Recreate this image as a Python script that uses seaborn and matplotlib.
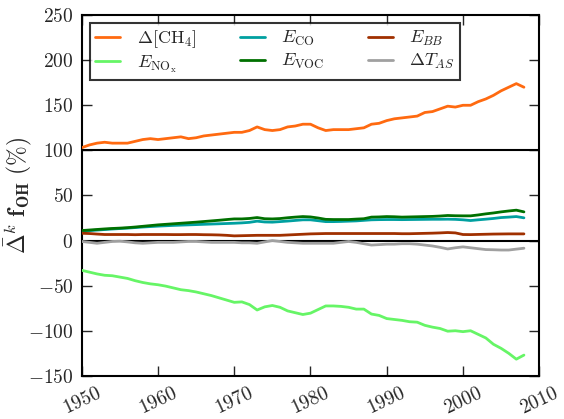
import numpy as np
import pandas as pd
import matplotlib
matplotlib.use("Agg")
import matplotlib.pyplot as plt
import seaborn as sns

years = list(range(1950, 2009))

ch4 = [103, 106, 108, 109, 108, 108, 108, 110, 112, 113,
       112, 113, 114, 115, 113, 114, 116, 117, 118, 119,
       120, 120, 122, 126, 123, 122, 123, 126, 127, 129,
       129, 125, 122, 123, 123, 123, 124, 125, 129, 130,
       133, 135, 136, 137, 138, 142, 143, 146, 149, 148,
       150, 150, 154, 157, 161, 166, 170, 174, 170]

nox = [-33, -35, -37, -38.5, -39, -40.5, -42, -44.5, -46.5, -48,
       -49, -50.5, -52.5, -54.5, -55.5, -57, -59, -61, -63.5, -66,
       -68.5, -68, -71, -77, -73.5, -72, -74, -78, -80, -82,
       -80.5, -76.5, -72.5, -72.5, -73, -74, -76, -76, -81.5, -83,
       -86.5, -87.5, -88.5, -90, -90.5, -94, -96, -97.5, -100.5, -100,
       -101, -100, -104, -108, -115, -119.5, -125, -131.5, -127]

co = [10.4, 11, 11.6, 12.2, 12.8, 13.3, 13.8, 14.4, 15, 15.5,
      16, 16.4, 16.8, 17.1, 17.4, 17.7, 18, 18.3, 18.6, 18.9,
      19.2, 19.6, 20.2, 21.5, 20.6, 20.4, 21, 21.6, 22.3, 23,
      23, 22, 21, 21, 21.2, 21.5, 21.8, 22.4, 23, 23.2,
      23.3, 23.3, 23.2, 23.3, 23.4, 23.5, 23.6, 23.6, 23.7, 23.5,
      23, 22.2, 23, 23.7, 24.5, 25.5, 26, 26.6, 25.2]

voc = [11.1, 11.7, 12.3, 12.9, 13.4, 13.8, 14.3, 15, 15.8, 16.6,
       17.4, 18, 18.6, 19.2, 19.8, 20.4, 21.1, 21.8, 22.5, 23.3,
       24, 24, 24.5, 25.5, 24.2, 24, 24.4, 25.3, 26, 26.6,
       26.2, 25, 23.5, 23.3, 23.3, 23.3, 23.8, 24.2, 26, 26.2,
       26.6, 26.4, 26, 26.2, 26.4, 26.6, 26.8, 27.2, 27.8, 27.5,
       27.4, 27.4, 28.4, 29.6, 30.6, 31.8, 32.8, 33.7, 31.8]

bb = [8.1, 7.8, 7.2, 6.7, 6.7, 6.7, 6.7, 6.5, 6.7, 6.7,
      6.7, 6.7, 6.6, 6.6, 6.7, 6.7, 6.5, 6.4, 6.2, 5.8,
      5.2, 5.4, 5.6, 5.8, 5.8, 5.8, 5.8, 6.2, 6.6, 7,
      7.4, 7.6, 7.8, 7.8, 7.8, 7.8, 7.8, 7.8, 7.8, 7.8,
      7.8, 7.8, 7.6, 7.6, 7.8, 8, 8.2, 8.5, 8.9, 8.5,
      6.7, 6.6, 6.8, 7, 7.2, 7.3, 7.4, 7.4, 7.4]

tas = [-1, -2, -3, -2, -1, -0.7, -1.5, -2.5, -3, -2.5,
       -2, -2, -2, -1.5, -1, -1, -1.5, -2, -2, -2,
       -2, -2.5, -2.5, -3, -1.5, 0, -1, -2, -2.5, -3,
       -3, -3, -3, -3, -2, -1, -2, -3.5, -5, -4.5,
       -4, -4, -3.5, -3.5, -4, -5, -6, -7.5, -9.3, -8,
       -7, -8, -9, -10, -10.2, -10.5, -10.5, -9.5, -8.5]

labels = [r'$\Delta[\mathrm{CH_4}]$', r'$E_{\mathrm{NO_x}}$', r'$E_{\mathrm{CO}}$',
          r'$E_{\mathrm{VOC}}$', r'$E_{BB}$', r'$\Delta T_{AS}$']
colors = ['#ff6a10', '#66f566', '#00a0a0', '#007000', '#a03000', '#a0a0a0']
series = [ch4, nox, co, voc, bb, tas]

frames = []
for lab, vals in zip(labels, series):
    frames.append(pd.DataFrame({'year': years, 'value': vals, 'series': lab}))
df = pd.concat(frames, ignore_index=True)

sns.set_style("white")
plt.rcParams['mathtext.fontset'] = 'cm'
plt.rcParams['font.family'] = ['DejaVu Serif']

fig = plt.figure(figsize=(5.64, 4.19), dpi=100)
ax = fig.add_axes([0.145, 0.103, 0.811, 0.861])

ax.axhline(0, color='black', lw=1.5, zorder=1)
ax.axhline(100, color='black', lw=1.5, zorder=1)

sns.lineplot(data=df, x='year', y='value', hue='series', hue_order=labels,
             palette=dict(zip(labels, colors)), lw=2.0, ax=ax, zorder=3)

ax.set_xlim(1950, 2010)
ax.set_ylim(-150, 250)
xt = list(range(1950, 2011, 10))
yt = list(range(-150, 251, 50))
ax.set_xticks(xt)
ax.set_xticklabels([f'${v}$' for v in xt], rotation=25, fontsize=14)
ax.set_yticks(yt)
ax.set_yticklabels([f'${v}$' for v in yt], fontsize=14)
ax.tick_params(direction='in', length=7, width=1, top=True, right=True,
               bottom=True, left=True, pad=6)
for s in ax.spines.values():
    s.set_color('black')
    s.set_linewidth(1.5)
ax.set_xlabel('')
ax.set_ylabel(r'$\bar{\Delta}^k\ \mathbf{f_{OH}}\ (\%)$', fontsize=17)
ax.yaxis.set_label_coords(-0.105, 0.5)

leg = ax.legend(ncol=3, loc='upper left', fontsize=13, frameon=True,
                fancybox=False, edgecolor='black', handlelength=1.4,
                handletextpad=0.9, borderpad=0.3, columnspacing=2.4,
                labelspacing=0.2, borderaxespad=0.0,
                bbox_to_anchor=(0.0175, 0.978))
leg.get_frame().set_linewidth(1.5)
for l in leg.get_lines():
    l.set_linewidth(2.0)

fig.savefig('out.png', dpi=100)
